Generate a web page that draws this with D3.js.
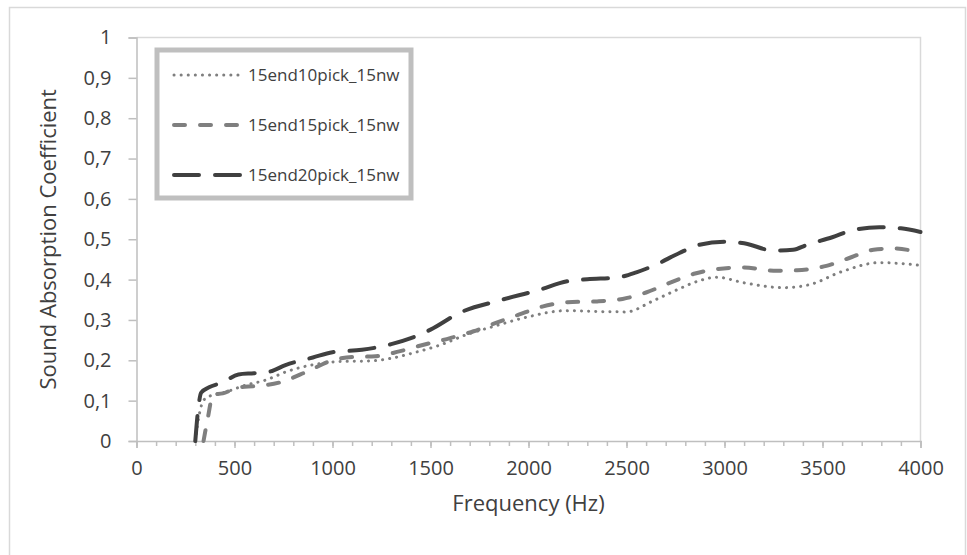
<!DOCTYPE html>
<html>
<head>
<meta charset="utf-8">
<script src="https://cdn.jsdelivr.net/npm/d3@7"></script>
<style>
  body { margin: 0; background: #fff; }
  text { font-family: 'Open Sans', sans-serif; fill: #404040; }
</style>
</head>
<body>
<svg width="967" height="555"></svg>
<script>
/* sound absorption line chart */

// DATA ////////////////////////////////////////////////////////////////////////
const seriesNames = ['15end10pick_15nw', '15end15pick_15nw', '15end20pick_15nw'];

const freq10 = [300, 318, 338, 360, 460, 560, 660, 760, 900, 1040, 1170, 1300, 1410, 1550, 1680, 1830, 2000, 2190, 2340, 2500, 2630, 2750, 2870, 2960, 3100, 3300, 3430, 3600, 3790, 3900, 4000];
const abs10 = [0, 0.06, 0.097, 0.108, 0.122, 0.139, 0.151, 0.171, 0.189, 0.197, 0.198, 0.205, 0.218, 0.238, 0.263, 0.285, 0.308, 0.323, 0.321, 0.32, 0.346, 0.373, 0.397, 0.406, 0.392, 0.38, 0.387, 0.42, 0.442, 0.44, 0.435];

const freq15 = [342, 365, 390, 440, 520, 610, 730, 870, 1000, 1100, 1220, 1340, 1460, 1600, 1720, 1830, 1950, 2070, 2200, 2350, 2480, 2600, 2720, 2850, 2960, 3100, 3250, 3370, 3520, 3650, 3760, 3870, 4000];
const abs15 = [0, 0.06, 0.115, 0.118, 0.133, 0.136, 0.145, 0.172, 0.2, 0.208, 0.21, 0.222, 0.238, 0.255, 0.272, 0.292, 0.313, 0.333, 0.344, 0.346, 0.352, 0.368, 0.392, 0.415, 0.426, 0.43, 0.422, 0.423, 0.434, 0.456, 0.474, 0.477, 0.466];

const freq20 = [300, 315, 330, 370, 440, 520, 600, 680, 760, 900, 1000, 1150, 1300, 1400, 1500, 1650, 1850, 2050, 2200, 2300, 2450, 2550, 2650, 2770, 2870, 3000, 3100, 3250, 3350, 3420, 3550, 3650, 3790, 3900, 4000];
const abs20 = [0, 0.08, 0.12, 0.133, 0.145, 0.165, 0.168, 0.172, 0.188, 0.207, 0.22, 0.226, 0.24, 0.255, 0.276, 0.318, 0.348, 0.374, 0.396, 0.401, 0.405, 0.418, 0.437, 0.466, 0.486, 0.494, 0.49, 0.472, 0.474, 0.486, 0.505, 0.522, 0.53, 0.527, 0.518];

const xTicks = [0, 500, 1000, 1500, 2000, 2500, 3000, 3500, 4000];
const yTicks = [0, 0.1, 0.2, 0.3, 0.4, 0.5, 0.6, 0.7, 0.8, 0.9, 1];

// SET PARAMETERS //////////////////////////////////////////////////////////////
const svg = d3.select('svg');
const plot = { left: 136.5, right: 920.5, top: 37.5, bottom: 441 };

const x = d3.scaleLinear().domain([0, 4000]).range([plot.left, plot.right]);
const y = d3.scaleLinear().domain([0, 1]).range([plot.bottom, plot.top]);

const commaFormat = d => d3.format('~g')(d).replace('.', ',');

const styles = [
  { color: '#7f7f7f', width: 3, dash: '0.1 7' },
  { color: '#7f7f7f', width: 4, dash: '11 15' },
  { color: '#404040', width: 4, dash: '25 16' }
];

const series = [
  freq10.map((f, i) => ({ f: f, v: abs10[i] })),
  freq15.map((f, i) => ({ f: f, v: abs15[i] })),
  freq20.map((f, i) => ({ f: f, v: abs20[i] }))
];

const line = d3
  .line()
  .x(d => x(d.f))
  .y(d => y(d.v))
  .curve(d3.curveMonotoneX);

// DRAW ///////////////////////////////////////////////////////////////////////
// chart border
svg.append('rect')
  .attr('x', 9.5)
  .attr('y', 7.5)
  .attr('width', 956)
  .attr('height', 560)
  .attr('fill', 'none')
  .attr('stroke', '#d9d9d9')
  .attr('stroke-width', 1.5);

// plot area border (top + right)
svg.append('path')
  .attr('d', `M${plot.left},${plot.top}H${plot.right}V${plot.bottom}`)
  .attr('fill', 'none')
  .attr('stroke', '#d9d9d9')
  .attr('stroke-width', 1.5);

// x axis
const xAxis = svg.append('g')
  .attr('transform', `translate(0,${plot.bottom})`);

xAxis.append('g')
  .call(d3.axisBottom(x).tickValues(d3.range(0, 4001, 100)).tickSize(5).tickFormat(''))
  .call(g => g.select('.domain').remove())
  .selectAll('line').attr('stroke', '#bfbfbf').attr('stroke-width', 1.5);

xAxis.append('g')
  .call(d3.axisBottom(x).tickValues(xTicks).tickSize(7).tickPadding(13).tickFormat(commaFormat))
  .call(g => g.select('.domain').attr('stroke', '#bfbfbf').attr('stroke-width', 1.5))
  .call(g => g.selectAll('line').attr('stroke', '#bfbfbf').attr('stroke-width', 1.5))
  .call(g => g.selectAll('text').style('font-size', '20px').attr('fill', '#404040'));

// y axis
svg.append('g')
  .attr('transform', `translate(${plot.left},0)`)
  .call(d3.axisLeft(y).tickValues(yTicks).tickSize(8).tickPadding(17).tickFormat(commaFormat))
  .call(g => g.select('.domain').attr('stroke', '#bfbfbf').attr('stroke-width', 1.5))
  .call(g => g.selectAll('line').attr('stroke', '#bfbfbf').attr('stroke-width', 1.5))
  .call(g => g.selectAll('text').style('font-size', '20px').attr('fill', '#404040'));

// axis titles
svg.append('text')
  .attr('x', (plot.left + plot.right) / 2)
  .attr('y', 511)
  .attr('text-anchor', 'middle')
  .style('font-size', '22px')
  .text('Frequency (Hz)');

svg.append('text')
  .attr('transform', `translate(56,${(plot.top + plot.bottom) / 2}) rotate(-90)`)
  .attr('text-anchor', 'middle')
  .style('font-size', '22px')
  .text('Sound Absorption Coefficient');

// lines
svg.append('g')
  .selectAll('path')
  .data(series)
  .enter()
  .append('path')
  .attr('fill', 'none')
  .attr('stroke', (d, i) => styles[i].color)
  .attr('stroke-width', (d, i) => styles[i].width)
  .attr('stroke-dasharray', (d, i) => styles[i].dash)
  .attr('stroke-linecap', 'round')
  .attr('d', line);

// legend
const legend = svg.append('g');

legend.append('rect')
  .attr('x', 157)
  .attr('y', 50)
  .attr('width', 254)
  .attr('height', 148)
  .attr('fill', '#fff')
  .attr('stroke', '#bfbfbf')
  .attr('stroke-width', 5);

const item = legend
  .selectAll('.item')
  .data(seriesNames)
  .enter()
  .append('g')
  .attr('class', 'item')
  .attr('transform', (d, i) => `translate(0,${75 + i * 50})`);

item.append('line')
  .attr('x1', 174)
  .attr('x2', 241)
  .attr('stroke', (d, i) => styles[i].color)
  .attr('stroke-width', (d, i) => styles[i].width)
  .attr('stroke-dasharray', (d, i) => styles[i].dash)
  .attr('stroke-linecap', 'round');

item.append('text')
  .attr('x', 248)
  .attr('dy', '0.35em')
  .style('font-size', '17px')
  .text(d => d);
</script>
</body>
</html>
